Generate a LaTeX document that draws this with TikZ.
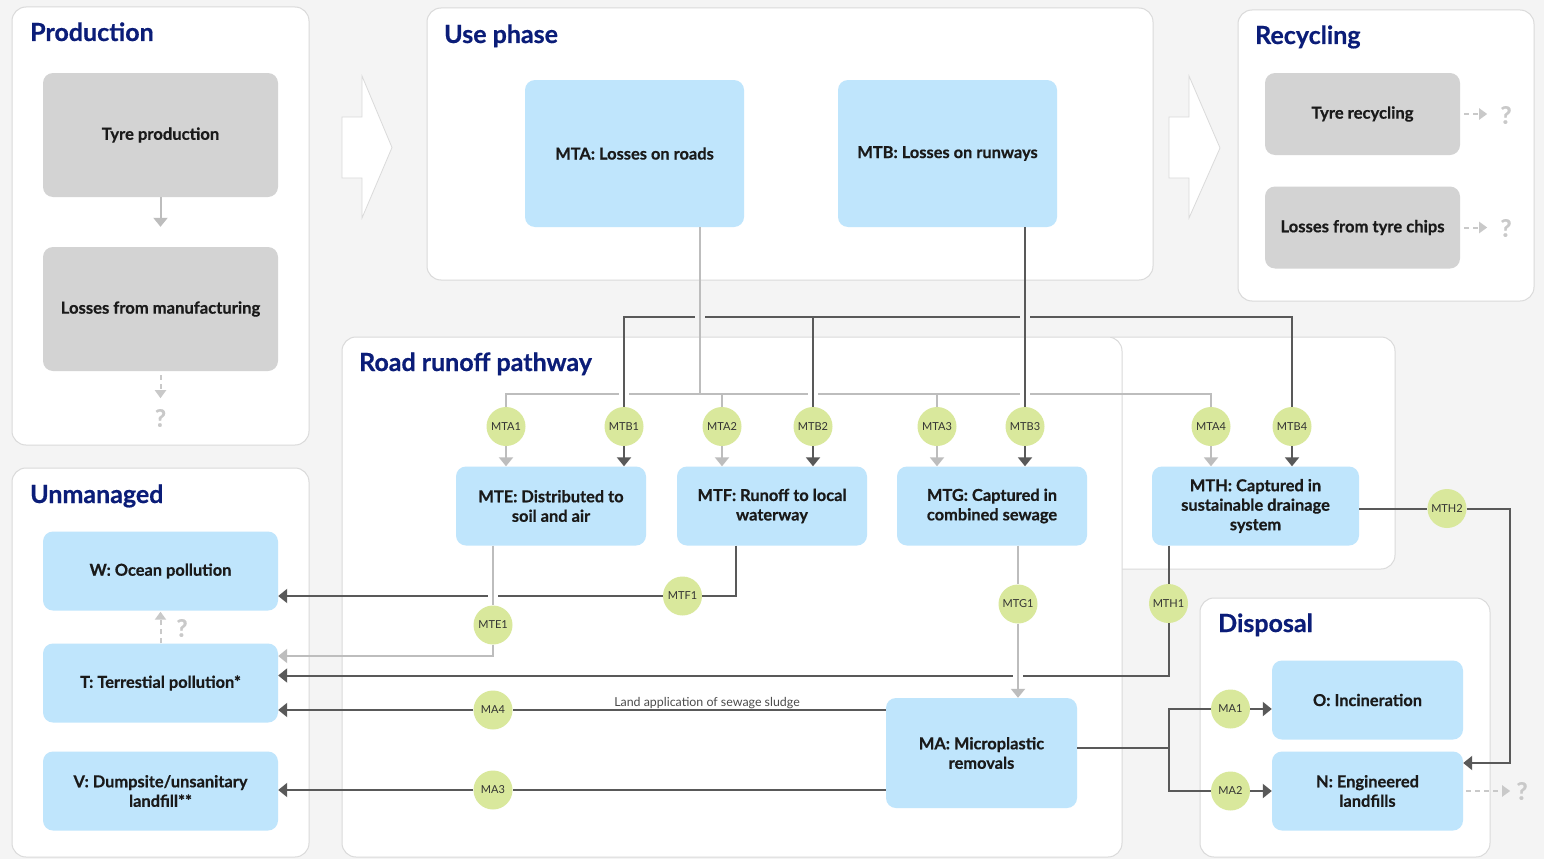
\documentclass[tikz,border=0pt]{standalone}
\usepackage{fontspec}
\setmainfont{Lato}[BoldFeatures={FakeBold=0.6}]
\usetikzlibrary{arrows.meta}
\definecolor{bgc}{HTML}{F4F4F4}
\definecolor{panelline}{HTML}{DADADA}
\definecolor{boxgray}{HTML}{D3D3D3}
\definecolor{boxblue}{HTML}{BFE5FC}
\definecolor{dotgreen}{HTML}{D9E89C}
\definecolor{navy}{HTML}{0B1D78}
\definecolor{darkline}{HTML}{595959}
\definecolor{liteline}{HTML}{BDBDBD}
\definecolor{qgray}{HTML}{C9C9C9}
\definecolor{txt}{HTML}{1A1A1A}
\tikzset{
 panel/.style={fill=white, draw=panelline, line width=1pt, rounded corners=14pt},
 ptitle/.style={anchor=base west, inner sep=0, text=navy, font=\fontsize{25}{28}\selectfont\bfseries},
 graybox/.style={fill=boxgray, rounded corners=10pt, inner sep=0, align=center, text=txt, font=\fontsize{16.6}{19.5}\selectfont\bfseries},
 bluebox/.style={fill=boxblue, rounded corners=10pt, inner sep=0, align=center, text=txt, font=\fontsize{16.4}{19.5}\selectfont\bfseries},
 dot/.style={circle, fill=dotgreen, minimum size=39pt, inner sep=0, font=\fontsize{11}{12}\selectfont, text=black!80},
 dark/.style={draw=darkline, line width=2pt},
 lite/.style={draw=liteline, line width=2pt},
 darkarrow/.style={dark, -{Triangle[length=9pt,width=14pt]}},
 litearrow/.style={lite, -{Triangle[length=9pt,width=14pt]}},
 dasharrow/.style={draw=qgray, line width=2pt, dash pattern=on 5pt off 4pt, -{Triangle[length=8pt,width=11pt]}},
 qmark/.style={text=qgray, font=\fontsize{24}{26}\selectfont\bfseries, inner sep=0},
 bigarrow/.style={fill=white, draw=panelline, line width=0.8pt},
}
\begin{document}
\begin{tikzpicture}[x=1pt,y=-1pt]
\useasboundingbox (0,0) rectangle (1544,859);
\fill[bgc] (0,0) rectangle (1544,859);

% panels
\draw[panel] (12,7) rectangle (309,445);
\draw[panel] (427,8) rectangle (1153,280);
\draw[panel] (1238,10) rectangle (1534,301);
\draw[panel] (12,468) rectangle (309,857);
\draw[panel] (1100,337) rectangle (1395,569);
\draw[panel] (342,337) rectangle (1122,857);
\draw[panel] (1200,598) rectangle (1490,857);

\node[ptitle] (tprod) at (30,41) {Production};
\node[ptitle] (tuse) at (444,43) {Use phase};
\node[ptitle] (trec) at (1255,44) {Recycling};
\node[ptitle] (troad) at (359,371) {Road runoff pathway};
\node[ptitle] (tunm) at (30,503) {Unmanaged};
\node[ptitle] (tdis) at (1218,632) {Disposal};

% big arrows
\draw[bigarrow] (342,117) -- (362,117) -- (362,76) -- (392,147.5) -- (362,218) -- (362,178) -- (342,178) -- cycle;
\draw[bigarrow] (1169,117) -- (1189,117) -- (1189,76) -- (1220,148) -- (1189,218) -- (1189,178) -- (1169,178) -- cycle;

% gray boxes
\node[graybox, minimum width=235pt, minimum height=124pt] (TP) at (160.5,135) {Tyre production};
\node[graybox, minimum width=235pt, minimum height=124pt] (LM) at (160.5,309) {Losses from manufacturing};
\node[graybox, minimum width=195pt, minimum height=82pt] (TR) at (1362.5,114) {Tyre recycling};
\node[graybox, minimum width=195pt, minimum height=82pt] (LC) at (1362.5,227.5) {Losses from tyre chips};

% blue boxes
\node[bluebox, minimum width=219pt, minimum height=147pt] (MTA) at (634.5,153.5) {MTA: Losses on roads};
\node[bluebox, minimum width=219pt, minimum height=147pt] (MTB) at (947.5,153.5) {MTB: Losses on runways};
\node[bluebox, minimum width=190pt, minimum height=79pt] (MTE) at (551,506) {MTE: Distributed to\\soil and air};
\node[bluebox, minimum width=190pt, minimum height=79pt] (MTF) at (772,506) {MTF: Runoff to local\\waterway};
\node[bluebox, minimum width=190pt, minimum height=79pt] (MTG) at (992,506) {MTG: Captured in\\combined sewage};
\node[bluebox, minimum width=207pt, minimum height=79pt] (MTH) at (1255.5,506) {MTH: Captured in\\sustainable drainage\\system};
\node[bluebox, minimum width=235pt, minimum height=79pt] (W) at (160.5,571) {W: Ocean pollution};
\node[bluebox, minimum width=235pt, minimum height=79pt] (T) at (160.5,683) {T: Terrestial pollution*};
\node[bluebox, minimum width=235pt, minimum height=79pt] (V) at (160.5,791) {V: Dumpsite/unsanitary\\landfill**};
\node[bluebox, minimum width=191pt, minimum height=110pt] (MA) at (981.5,753) {MA: Microplastic\\removals};
\node[bluebox, minimum width=191pt, minimum height=79pt] (O) at (1367.5,700) {O: Incineration};
\node[bluebox, minimum width=191pt, minimum height=79pt] (N) at (1367.5,791) {N: Engineered\\landfills};

% green dots
\node[dot] (MTA1) at (506,426.5) {MTA1};
\node[dot] (MTB1) at (624,426.5) {MTB1};
\node[dot] (MTA2) at (722,426.5) {MTA2};
\node[dot] (MTB2) at (813,426.5) {MTB2};
\node[dot] (MTA3) at (937,426.5) {MTA3};
\node[dot] (MTB3) at (1025,426.5) {MTB3};
\node[dot] (MTA4) at (1211,426.5) {MTA4};
\node[dot] (MTB4) at (1292,426.5) {MTB4};
\node[dot] (MTE1) at (493,625) {MTE1};
\node[dot] (MTF1) at (682.5,596) {MTF1};
\node[dot] (MTG1) at (1018,604) {MTG1};
\node[dot] (MTH1) at (1168.5,603.5) {MTH1};
\node[dot] (MTH2) at (1447,508.5) {MTH2};
\node[dot] (MA4) at (493,710) {MA4};
\node[dot] (MA3) at (493,790) {MA3};
\node[dot] (MA1) at (1230.5,709) {MA1};
\node[dot] (MA2) at (1230.5,791) {MA2};

\coordinate (busA) at (700,394);
\coordinate (busB) at (1025,317);

% dark bus (MTB)
\draw[dark] (MTB1.north) |- (busB) -| (MTB4.north);
\draw[dark] (busB -| MTB2) -- (MTB2.north);
% gaps in dark bus
\fill[bgc] (695,314) rectangle (705,320);
\fill[bgc] (1020,314) rectangle (1030,320);
% light bus (MTA)
\draw[lite] (MTA.south -| busA) -- (busA);
\draw[lite] (MTA1.north) |- (busA) -| (MTA4.north);
\draw[lite] (busA -| MTA2) -- (MTA2.north);
\draw[lite] (busA -| MTA3) -- (MTA3.north);
% gaps in light bus
\fill[white] (619,391) rectangle (629,397);
\fill[white] (808,391) rectangle (818,397);
\fill[white] (1020,391) rectangle (1030,397);
% dark verticals on top
\draw[dark] (busB -| MTB1) -- (MTB1.north);
\draw[dark] (busB -| MTB2) -- (MTB2.north);
\draw[dark] (MTB.south -| MTB3) -- (MTB3.north);

% dots to boxes
\draw[litearrow] (MTA1.south) -- (MTA1 |- MTE.north);
\draw[darkarrow] (MTB1.south) -- (MTB1 |- MTE.north);
\draw[litearrow] (MTA2.south) -- (MTA2 |- MTF.north);
\draw[darkarrow] (MTB2.south) -- (MTB2 |- MTF.north);
\draw[litearrow] (MTA3.south) -- (MTA3 |- MTG.north);
\draw[darkarrow] (MTB3.south) -- (MTB3 |- MTG.north);
\draw[litearrow] (MTA4.south) -- (MTA4 |- MTH.north);
\draw[darkarrow] (MTB4.south) -- (MTB4 |- MTH.north);

% MTF -> W
\draw[dark] (MTF.south -| 736,0) |- (MTF1.east);
\draw[darkarrow] (MTF1.west) -- (W.east |- MTF1);
\fill[white] (488,593) rectangle (498,599);
% MTE -> T
\draw[lite] (MTE.south -| MTE1) -- (MTE1.north);
\draw[litearrow] (MTE1.south) |- (T.east |- 0,656);
% MTH -> T
\draw[dark] (MTH.south -| MTH1) -- (MTH1.north);
\draw[darkarrow] (MTH1.south) |- (T.east |- 0,675.5);
\fill[white] (1013,672.5) rectangle (1023,678.5);
% MTG -> MA
\draw[lite] (MTG.south -| MTG1) -- (MTG1.north);
\draw[litearrow] (MTG1.south) -- (MTG1 |- MA.north);
% MTH -> N
\coordinate (mthc) at (1510,763);
\draw[dark] (MTH.east |- MTH2) -- (MTH2.west);
\draw[darkarrow] (MTH2.east) -| (mthc) -- (N.east |- mthc);
% MA -> T, V
\draw[dark] (MA.west |- MA4) -- (MA4.east);
\draw[darkarrow] (MA4.west) -- (T.east |- MA4);
\draw[dark] (MA.west |- MA3) -- (MA3.east);
\draw[darkarrow] (MA3.west) -- (V.east |- MA3);
\node[anchor=base, inner sep=0, text=black!70, font=\fontsize{12.4}{14}\selectfont] (lbl) at (707,706) {Land application of sewage sludge};
% MA -> O, N
\coordinate (mj) at (1169,747.5);
\draw[dark] (MA.east |- mj) -- (mj);
\draw[dark] (MA1.west) -| (mj) |- (MA2.west);
\draw[darkarrow] (MA1.east) -- (O.west |- MA1);
\draw[darkarrow] (MA2.east) -- (N.west |- MA2);

% production arrows
\draw[litearrow] (TP.south) -- ([yshift=20pt]LM.north);
\node[qmark] (q1) at (160.5,418) {?};
\draw[dasharrow] ([yshift=-4pt]LM.south) -- ([yshift=-27pt]LM.south);
% T -> W dashed
\draw[dasharrow] (T.north) -- ([yshift=-1pt]W.south);
\node[qmark] (q2) at (182,628) {?};
% recycling dashed
\node[qmark] (q3) at (1506,115) {?};
\node[qmark] (q4) at (1506,228) {?};
\draw[dasharrow] ([xshift=4pt]TR.east) -- ([xshift=27pt]TR.east);
\draw[dasharrow] ([xshift=4pt]LC.east) -- ([xshift=27pt]LC.east);
% N dashed
\node[qmark] (q5) at (1522,791) {?};
\draw[dasharrow] ([xshift=3pt]N.east) -- ([xshift=47pt]N.east);
\end{tikzpicture}
\end{document}
